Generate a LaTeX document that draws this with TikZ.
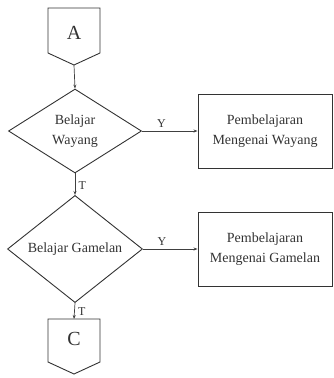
\documentclass[tikz,border=0pt]{standalone}
\usepackage{fontspec}
\setmainfont{Liberation Serif}
\usetikzlibrary{shapes.geometric,arrows.meta}
\begin{document}
\begin{tikzpicture}[x=1pt,y=-1pt,
  ink/.style={draw=black!80,line width=0.9pt},
  flow/.style={draw=black!75,line width=0.7pt,-{Stealth[length=4pt,width=3pt]}},
  txt/.style={font=\fontsize{14}{20}\selectfont,text=black!80,align=center},
  decision/.style={ink,shape=diamond,inner sep=0pt,txt},
  process/.style={ink,rectangle,minimum width=134pt,minimum height=74pt,inner sep=0pt,txt},
  letter/.style={font=\fontsize{20}{20}\selectfont,text=black!80},
  lbl/.style={font=\fontsize{12}{12}\selectfont,text=black!80}]
\useasboundingbox (0,0) rectangle (333,378);

% off-page connector A
\draw[ink] (48,8) -- (100,8) -- (100,53) -- (74,65) -- (48,53) -- cycle;
\coordinate (Abot) at (74,65);
\node[letter] (A) at (74,33) {A};

% first decision and its process
\node[decision,minimum width=133pt,minimum height=84pt] (D1) at (75,131) {Belajar\\Wayang};
\node[process] (P1) at (265,131) {Pembelajaran\\Mengenai Wayang};

% second decision and its process
\node[decision,minimum width=135pt,minimum height=83pt] (D2) at (75,249) {Belajar Gamelan};
\node[process] (P2) at (265,249) {Pembelajaran\\Mengenai Gamelan};

% off-page connector C
\coordinate (Ctop) at (74,319);
\draw[ink] (48,319) -- (100,319) -- (100,362) -- (74,374) -- (48,362) -- cycle;
\node[letter] (C) at (74,339) {C};

% connectors
\draw[flow] (Abot) -- (D1.north);
\draw[flow] (D1.east) -- node[lbl,above,pos=0.35] (y1) {Y} (P1.west);
\draw[flow] (D1.south) -- node[lbl,right,pos=0.55] (t1) {T} (D2.north);
\draw[flow] (D2.east) -- node[lbl,above,pos=0.35] (y2) {Y} (P2.west);
\draw[flow] (D2.south) -- node[lbl,right,pos=0.55] (t2) {T} (Ctop);
\end{tikzpicture}
\end{document}
